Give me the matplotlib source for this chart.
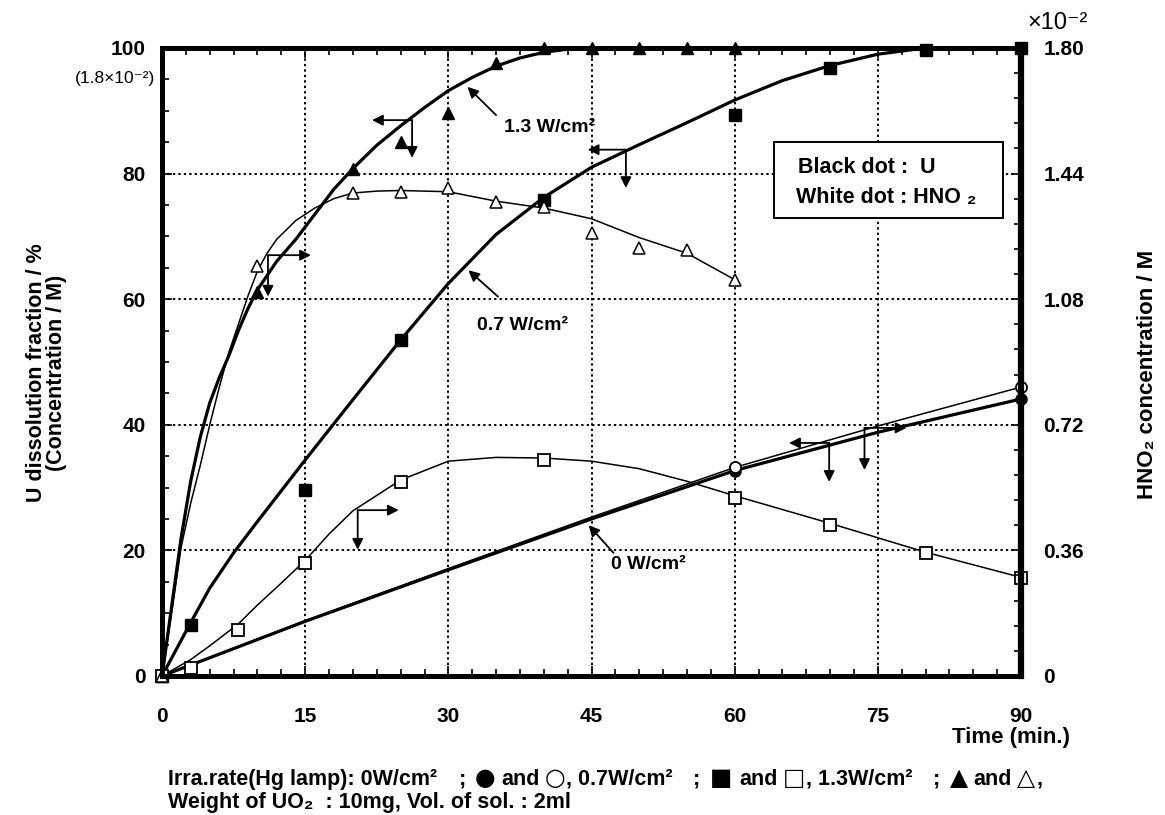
import matplotlib
matplotlib.use("Agg")
from matplotlib import pyplot as plt
from matplotlib.ticker import MultipleLocator, FixedLocator, FixedFormatter
from matplotlib.patches import Rectangle

plt.rcParams['font.family'] = ['Liberation Sans', 'DejaVu Sans']
plt.rcParams['font.weight'] = 'bold'

# measured points (left-axis units: % of U, or HNO2 scaled so 100 = 1.8e-2 M)
t_u0 = [0, 60, 90]
u0 = [0, 32.7, 44.1]
t_h0 = [0, 60, 90]
h0 = [0, 33.3, 46.0]

t_u07 = [0, 3, 15, 25, 40, 60, 70, 80, 90]
u07 = [0, 8.1, 29.6, 53.5, 75.8, 89.3, 96.8, 99.7, 100]
t_h07 = [0, 3, 8, 15, 25, 40, 60, 70, 80, 90]
h07 = [0, 1.3, 7.3, 18.0, 30.9, 34.4, 28.4, 24.1, 19.6, 15.6]

t_u13 = [0, 10, 20, 25, 30, 35, 40, 45, 50, 55, 60]
u13 = [0, 61.1, 80.7, 85.0, 89.6, 97.6, 100, 100, 100, 100, 100]
t_h13 = [0, 10, 20, 25, 30, 35, 40, 45, 50, 55, 60]
h13 = [0, 65.3, 76.9, 77.1, 77.7, 75.5, 74.7, 70.5, 68.2, 67.8, 63.1]

# fitted curves drawn through the points
ct_u0 = [0, 15, 30, 45, 60, 75, 90]
cu0 = [0, 8.7, 16.9, 25.0, 32.7, 38.8, 44.1]
ct_h0 = [0, 15, 30, 45, 60, 75, 90]
ch0 = [0, 8.8, 17.1, 25.3, 33.2, 39.8, 46.0]

ct_u07 = [0, 3, 5, 7.5, 10, 15, 20, 25, 30, 35, 40, 45, 50, 55, 60, 65, 70, 75, 80, 90]
cu07 = [0, 8.5, 14, 19.6, 24.6, 34.4, 44, 53.5, 62.5, 70.3, 76.2, 81, 84.6, 88.1,
        91.7, 94.8, 97.2, 99, 100, 100]
ct_h07 = [0, 3, 5, 8, 10, 12.5, 15, 17.5, 20, 25, 30, 35, 40, 45, 50, 55, 60, 65,
          70, 75, 80, 85, 90]
ch07 = [0, 2.6, 4.8, 8.3, 11.3, 14.8, 18.4, 22.6, 26.3, 31.2, 34.2, 34.8, 34.7,
        34.2, 33, 31, 28.7, 26.5, 24.3, 22, 19.7, 17.7, 15.7]

ct_u13 = [0, 1, 2, 3, 4, 5, 6, 7, 8, 9, 10, 12, 14, 16, 18, 20, 22.5, 25, 27.5, 30,
          32.5, 35, 37.5, 40, 42.5, 45, 90]
cu13 = [0, 11, 22, 31, 38, 43.5, 47.5, 51, 55, 58.5, 61.5, 66, 69.5, 73.5, 77.5,
        80.8, 84.5, 87.6, 90.5, 93.2, 95.3, 97.1, 98.4, 99.3, 99.8, 100, 100]
ct_h13 = [0, 1, 2, 3, 4, 5, 6, 7, 8, 9, 10, 11, 12, 14, 16, 18, 20, 22.5, 25, 30,
          35, 40, 45, 50, 55, 60]
ch13 = [0, 10, 20.5, 27.5, 33.5, 40, 46, 51.5, 56, 60.5, 64.5, 67.3, 69.5, 72.5,
        74.5, 76, 76.9, 77.2, 77.3, 77.1, 75.6, 74.5, 72.8, 69.8, 67.3, 63.1]

right_ticks = [0, 0.36, 0.72, 1.08, 1.44, 1.80]
right_labels = ['0', '0.36', '0.72', '1.08', '1.44', '1.80']

THICK = 2.3
THIN = 1.1
TICK_FS = 15
W, H = 1165, 815

fig = plt.figure(figsize=(W / 100, H / 100), dpi=100)
ax = fig.add_axes([0.1391, 0.1706, 0.7373, 0.7706])
ax.set_xlim(0, 90)
ax.set_ylim(0, 100)

# curves
ax.plot(ct_u0, cu0, color='black', lw=THICK, zorder=3)
ax.plot(ct_h0, ch0, color='black', lw=THIN, zorder=3)
ax.plot(ct_u07, cu07, color='black', lw=THICK, zorder=3)
ax.plot(ct_h07, ch07, color='black', lw=THIN, zorder=3)
ax.plot(ct_u13, cu13, color='black', lw=THICK, zorder=3)
ax.plot(ct_h13, ch13, color='black', lw=THIN, zorder=3)

# points
mk = dict(linestyle='none', color='black', clip_on=False, zorder=5)
ax.plot(t_u0, u0, marker='o', ms=8, **mk)
ax.plot(t_h0, h0, marker='o', ms=8, mfc='white', mew=1.3, **mk)
ax.plot(t_u07, u07, marker='s', ms=9, **mk)
ax.plot(t_h07, h07, marker='s', ms=8, mfc='white', mew=1.3, **mk)
ax.plot(t_u13, u13, marker='^', ms=8, **mk)
ax.plot(t_h13, h13, marker='^', ms=8, mfc='white', mew=1.1, **mk)

# axes styling
for s in ax.spines.values():
    s.set_linewidth(3.5)
ax.xaxis.set_major_locator(MultipleLocator(15))
ax.xaxis.set_minor_locator(MultipleLocator(2.5))
ax.yaxis.set_major_locator(MultipleLocator(20))
ax.yaxis.set_minor_locator(MultipleLocator(5))
ax.tick_params(which='both', direction='in', top=True, right=False, width=1.2)
ax.tick_params(which='major', length=7)
ax.tick_params(which='minor', length=5)
ax.tick_params(axis='x', pad=22, labelsize=TICK_FS)
ax.tick_params(axis='y', pad=12, labelsize=TICK_FS)
ax.grid(which='major', color='black', linestyle=(0, (1.2, 1.6)), lw=1.4)
ax.set_axisbelow(True)

ax2 = ax.twinx()
ax2.set_ylim(0, 1.8)
ax2.yaxis.set_major_locator(FixedLocator(right_ticks))
ax2.yaxis.set_major_formatter(FixedFormatter(right_labels))
ax2.yaxis.set_minor_locator(MultipleLocator(0.072))
ax2.tick_params(which='both', direction='in', width=1.2)
ax2.tick_params(which='major', length=7, pad=16, labelsize=TICK_FS)
ax2.tick_params(which='minor', length=5)
for s in ax2.spines.values():
    s.set_linewidth(3.5)
ax2.spines['right'].set_linewidth(4.5)

ax.text(-0.7, 95.2, '(1.8×10⁻²)', fontsize=12.5, ha='right', va='center',
        fontweight='normal')
ax.text(1.007, 1.04, '×10⁻²', transform=ax.transAxes, fontsize=17,
        ha='left', va='center', fontweight='normal')

# which axis each curve belongs to
arrows = [
    ((26.2, 88.5), [(22.0, 88.5), (26.2, 82.5)]),
    ((11.1, 67.0), [(15.6, 67.0), (11.1, 60.4)]),
    ((48.6, 83.8), [(44.6, 83.8), (48.6, 77.7)]),
    ((20.5, 26.4), [(24.8, 26.4), (20.5, 20.1)]),
    ((69.9, 37.1), [(65.7, 37.1), (69.9, 30.9)]),
    ((73.6, 39.5), [(78.0, 39.5), (73.6, 32.8)]),
]
for corner, tips in arrows:
    for tip in tips:
        ax.annotate('', xy=tip, xytext=corner,
                    arrowprops=dict(arrowstyle='-|>', color='black', lw=1.3,
                                    mutation_scale=16, shrinkA=0, shrinkB=0),
                    zorder=6)

labels = [
    ('1.3 W/cm²', (35.8, 87.4), (35.0, 89.3), (32.0, 93.8)),
    ('0.7 W/cm²', (33.0, 55.8), (35.2, 60.4), (32.1, 64.6)),
    ('0 W/cm²', (47.0, 17.7), (47.3, 19.6), (44.7, 24.0)),
]
for txt, pos, tail, head in labels:
    ax.text(pos[0], pos[1], txt, fontsize=14, ha='left', va='center')
    ax.annotate('', xy=head, xytext=tail,
                arrowprops=dict(arrowstyle='-|>', color='black', lw=1.3,
                                mutation_scale=16, shrinkA=0, shrinkB=0))

ax.add_patch(Rectangle((64.1, 72.9), 24.0, 12.1, facecolor='white',
                       edgecolor='black', lw=1.4, zorder=7))
ax.text(66.6, 81.0, 'Black dot :  U', fontsize=15.5, ha='left', va='center', zorder=8)
ax.text(66.4, 76.2, 'White dot : HNO ₂', fontsize=15.5, ha='left', va='center', zorder=8)

fig.text(0.040, 0.543, 'U dissolution fraction / %\n(Concentration / M)',
         rotation=90, ha='center', va='center', fontsize=15.5, linespacing=0.95)
fig.text(0.985, 0.540, 'HNO₂ concentration / M', rotation=90,
         ha='center', va='center', fontsize=16)
fig.text(1070 / W, 1 - 738 / H, 'Time (min.)', ha='right', va='center', fontsize=16)

# caption: text runs and key symbols laid out one after another on a baseline
caption = [
    ('Irra.rate(Hg lamp): 0W/cm²', 0), (';', 22), ('●', 8), ('and', 6), ('○', 5),
    (', 0.7W/cm²', 1), (';', 20), ('■', 10), ('and', 7), ('□', 5),
    (', 1.3W/cm²', 1), (';', 20), ('▲', 10), ('and', 6), ('△', 5), (',', 1),
]
symbols = '●○■□▲△'
renderer = fig.canvas.get_renderer()
xpx = 168
for txt, gap in caption:
    xpx += gap
    if txt in symbols:
        t = fig.text(xpx / W, 1 - 785 / H, txt, ha='left', va='baseline',
                     fontsize=17, family='DejaVu Sans', fontweight='normal')
    else:
        t = fig.text(xpx / W, 1 - 785 / H, txt, ha='left', va='baseline', fontsize=15.5)
    xpx = t.get_window_extent(renderer=renderer).x1
fig.text(168 / W, 1 - 808 / H, 'Weight of UO₂  : 10mg, Vol. of sol. : 2ml',
         ha='left', va='baseline', fontsize=15.5)

fig.savefig('out.png', dpi=100)
